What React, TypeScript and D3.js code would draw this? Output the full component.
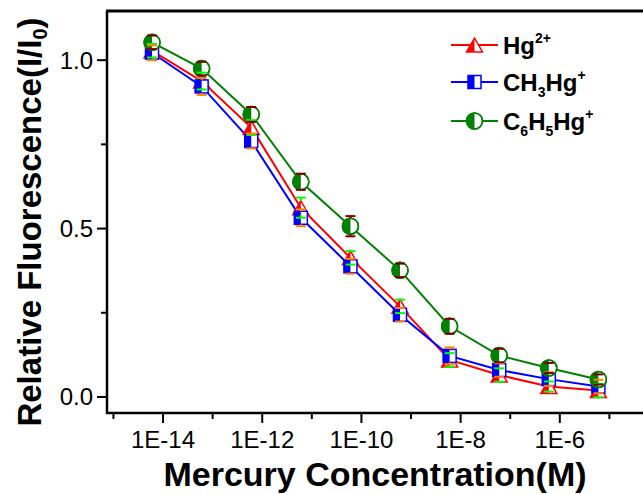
import React from "react";
import * as d3 from "d3";

const CONCENTRATIONS = [6e-15, 6e-14, 6e-13, 6e-12, 6e-11, 6e-10, 6e-9, 6e-8, 6e-7, 6e-6];
const HG2 = [1.028, 0.938, 0.8, 0.562, 0.413, 0.269, 0.11, 0.065, 0.031, 0.019];
const HG2_ERR = [0.02, 0.025, 0.022, 0.03, 0.02, 0.02, 0.02, 0.02, 0.015, 0.02];
const CH3HG = [1.022, 0.922, 0.76, 0.532, 0.388, 0.244, 0.122, 0.08, 0.053, 0.031];
const CH3HG_ERR = [0.022, 0.025, 0.022, 0.025, 0.022, 0.02, 0.025, 0.02, 0.02, 0.02];
const C6H5HG = [1.053, 0.975, 0.839, 0.639, 0.507, 0.376, 0.21, 0.123, 0.086, 0.052];
const C6H5HG_ERR = [0.02, 0.02, 0.022, 0.024, 0.03, 0.02, 0.022, 0.02, 0.015, 0.015];

const X_MAJOR = [1e-14, 1e-12, 1e-10, 1e-8, 1e-6];
const X_MAJOR_LABELS = ["1E-14", "1E-12", "1E-10", "1E-8", "1E-6"];
const X_MINOR = [1e-15, 1e-13, 1e-11, 1e-9, 1e-7, 1e-5];
const Y_MAJOR = [0, 0.5, 1.0];
const Y_MAJOR_LABELS = ["0.0", "0.5", "1.0"];
const Y_MINOR = [0.25, 0.75];

const W = 643;
const H = 494;
const FONT = "'Liberation Sans', Arial, Helvetica, sans-serif";

type Shape = "triangle" | "square" | "circle";

function Marker({ shape, cx, cy, color }: { shape: Shape; cx: number; cy: number; color: string }) {
  if (shape === "triangle") {
    const s = 16;
    const h = 14;
    const top = cy - h / 2;
    const base = cy + h / 2;
    return (
      <g>
        <polygon points={`${cx},${top} ${cx - s / 2},${base} ${cx + s / 2},${base}`} fill="#fff" stroke={color} strokeWidth={1.5} strokeLinejoin="miter" />
        <polygon points={`${cx},${top} ${cx - s / 2},${base} ${cx},${base}`} fill={color} />
      </g>
    );
  }
  if (shape === "square") {
    const s = 13;
    return (
      <g>
        <rect x={cx - s / 2} y={cy - s / 2} width={s} height={s} fill="#fff" stroke={color} strokeWidth={1.5} />
        <rect x={cx - s / 2} y={cy - s / 2} width={s / 2} height={s} fill={color} />
      </g>
    );
  }
  const r = 8;
  return (
    <g>
      <circle cx={cx} cy={cy} r={r} fill="#fff" stroke={color} strokeWidth={1.5} />
      <path d={`M${cx},${cy - r} A${r},${r} 0 0 0 ${cx},${cy + r} Z`} fill={color} />
      <circle cx={cx} cy={cy} r={r} fill="none" stroke={color} strokeWidth={1.5} />
    </g>
  );
}

const HALF: Record<Shape, number> = { triangle: 7, square: 6.5, circle: 8 };

export default function App() {
  const x = d3.scaleLog().domain([Math.pow(10, -15.13), 1e-4]).range([107, 659]);
  const y = d3.scaleLinear().domain([-0.0476, 1.146]).range([413, 11]);

  const series = [
    { name: "Hg", values: HG2, err: HG2_ERR, color: "#ff0000", errColor: "#00ff00", shape: "triangle" as Shape },
    { name: "CH3Hg", values: CH3HG, err: CH3HG_ERR, color: "#0000ff", errColor: "#ff8000", shape: "square" as Shape },
    { name: "C6H5Hg", values: C6H5HG, err: C6H5HG_ERR, color: "#008000", errColor: "#800000", shape: "circle" as Shape },
  ];

  const line = d3
    .line<number>()
    .x((_, i) => x(CONCENTRATIONS[i]))
    .y((d) => y(d));

  const legendRows = [45, 82, 121];
  const legX0 = 451;
  const legX1 = 498;

  return (
    <svg width={W} height={H} style={{ position: "absolute", left: 0, top: 0, background: "#fff" }} fontFamily={FONT}>
      <rect x={0} y={0} width={W} height={H} fill="#fff" />
      {/* lines */}
      {series.map((s) => (
        <path key={s.name} d={line(s.values) || ""} fill="none" stroke={s.color} strokeWidth={2} />
      ))}
      {/* markers */}
      {series.map((s) =>
        s.values.map((v, i) => <Marker key={s.name + i} shape={s.shape} cx={x(CONCENTRATIONS[i])} cy={y(v)} color={s.color} />)
      )}
      {/* error bars */}
      {series.map((s) =>
        s.values.map((v, i) => {
          const cx = x(CONCENTRATIONS[i]);
          const cy = y(v);
          const yt = y(v + s.err[i]);
          const yb = y(v - s.err[i]);
          const hh = HALF[s.shape];
          const cw = 5;
          return (
            <g key={"e" + s.name + i} stroke={s.errColor} strokeWidth={2}>
              {cy - hh > yt && <line x1={cx} x2={cx} y1={cy - hh} y2={yt} />}
              {cy + hh < yb && <line x1={cx} x2={cx} y1={cy + hh} y2={yb} />}
              <line x1={cx - cw} x2={cx + cw} y1={yt} y2={yt} />
              <line x1={cx - cw} x2={cx + cw} y1={yb} y2={yb} />
            </g>
          );
        })
      )}
      {/* frame */}
      <line x1={107} x2={107} y1={11} y2={414} stroke="#000" strokeWidth={2.5} />
      <line x1={106} x2={W + 5} y1={413} y2={413} stroke="#000" strokeWidth={2.5} />
      <line x1={106} x2={W + 5} y1={11} y2={11} stroke="#000" strokeWidth={3} />
      {/* x ticks */}
      {X_MAJOR.map((t, i) => (
        <g key={"xm" + i}>
          <line x1={x(t)} x2={x(t)} y1={413} y2={423} stroke="#000" strokeWidth={2} />
          <text x={x(t)} y={448} textAnchor="middle" fontSize={24}>
            {X_MAJOR_LABELS[i]}
          </text>
        </g>
      ))}
      {X_MINOR.map((t, i) => (
        <line key={"xn" + i} x1={x(t)} x2={x(t)} y1={413} y2={419} stroke="#000" strokeWidth={2} />
      ))}
      {/* y ticks */}
      {Y_MAJOR.map((t, i) => (
        <g key={"ym" + i}>
          <line x1={97} x2={107} y1={y(t)} y2={y(t)} stroke="#000" strokeWidth={2} />
          <text x={93} y={y(t) + 8.5} textAnchor="end" fontSize={24}>
            {Y_MAJOR_LABELS[i]}
          </text>
        </g>
      ))}
      {Y_MINOR.map((t, i) => (
        <line key={"yn" + i} x1={101} x2={107} y1={y(t)} y2={y(t)} stroke="#000" strokeWidth={2} />
      ))}
      {/* axis titles */}
      <text x={375} y={486} textAnchor="middle" fontSize={34} fontWeight="bold">
        Mercury Concentration(M)
      </text>
      <text transform="translate(41,222) rotate(-90)" textAnchor="middle" fontSize={33} fontWeight="bold">
        Relative Fluorescence(I/I
        <tspan fontSize={20} dy={6}>0</tspan>
        <tspan dy={-6}>)</tspan>
      </text>
      {/* legend */}
      {series.map((s, i) => (
        <g key={"leg" + i}>
          <line x1={legX0} x2={legX1} y1={legendRows[i]} y2={legendRows[i]} stroke={s.color} strokeWidth={2} />
          <Marker shape={s.shape} cx={(legX0 + legX1) / 2} cy={legendRows[i]} color={s.color} />
        </g>
      ))}
      <text x={503} y={legendRows[0] + 9} fontSize={24} fontWeight="bold">
        Hg<tspan fontSize={14} dy={-11}>2+</tspan>
      </text>
      <text x={503} y={legendRows[1] + 9} fontSize={24} fontWeight="bold">
        CH<tspan fontSize={14} dy={6}>3</tspan>
        <tspan dy={-6}>Hg</tspan>
        <tspan fontSize={14} dy={-11}>+</tspan>
      </text>
      <text x={503} y={legendRows[2] + 9} fontSize={24} fontWeight="bold">
        C<tspan fontSize={14} dy={6}>6</tspan>
        <tspan dy={-6}>H</tspan>
        <tspan fontSize={14} dy={6}>5</tspan>
        <tspan dy={-6}>Hg</tspan>
        <tspan fontSize={14} dy={-11}>+</tspan>
      </text>
    </svg>
  );
}
